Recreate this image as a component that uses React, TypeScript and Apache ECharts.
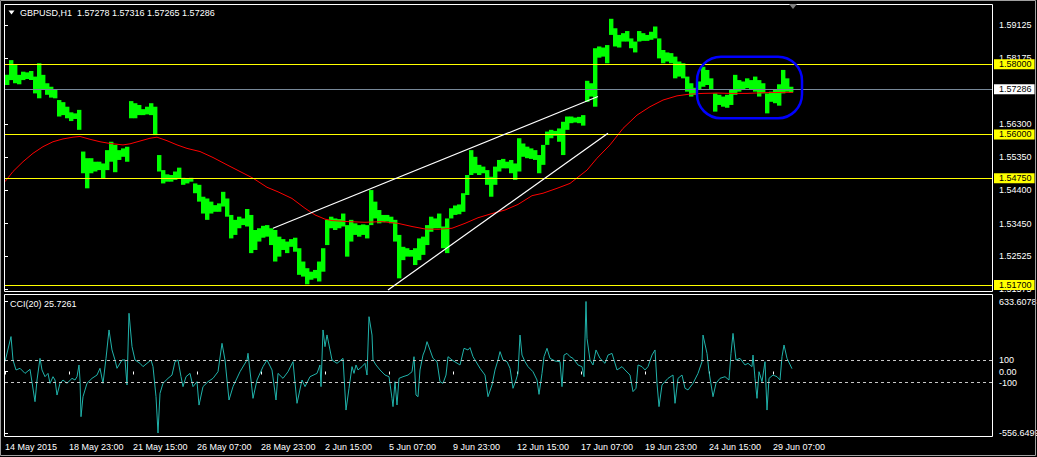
import React, { useEffect, useRef } from "react";
import * as echarts from "echarts";

const FONT = "Liberation Sans";
const STEP = 4; // hourly bars per sample

// Price bar high / low envelopes, one entry every STEP bars starting at bar 0
const greenHi = [
  1.5770, 1.5812, 1.5798, 1.5770, 1.5779, 1.5777, 1.5781, 1.5765, 1.5803, 1.5770,
  1.5746, 1.5736, 1.5727, 1.5698, 1.5692, 1.5679, 1.5663, 1.5660, 1.5670, 1.5551,
  1.5532, 1.5532, 1.5522, 1.5522, 1.5517, 1.5555, 1.5579, 1.5570, 1.5555, 1.5560,
  1.5565, 1.5695, 1.5689, 1.5684, 1.5672, 1.5679, 1.5689, 1.5679, 1.5541, 1.5498,
  1.5486, 1.5484, 1.5494, 1.5505, 1.5476, 1.5475, 1.5476, 1.5460, 1.5456, 1.5422,
  1.5417, 1.5408, 1.5398, 1.5403, 1.5436, 1.5417, 1.5370, 1.5356, 1.5365, 1.5360,
  1.5387, 1.5370, 1.5327, 1.5332, 1.5339, 1.5341, 1.5332, 1.5327, 1.5308, 1.5301,
  1.5294, 1.5301, 1.5305, 1.5275, 1.5237, 1.5218, 1.5208, 1.5213, 1.5237, 1.5275,
  1.5356, 1.5365, 1.5360, 1.5358, 1.5374, 1.5341, 1.5356, 1.5346, 1.5341, 1.5343,
  1.5341, 1.5441, 1.5408, 1.5384, 1.5370, 1.5370, 1.5365, 1.5356, 1.5313, 1.5279,
  1.5275, 1.5270, 1.5275, 1.5303, 1.5308, 1.5341, 1.5365, 1.5360, 1.5374, 1.5337,
  1.5360, 1.5389, 1.5397, 1.5400, 1.5432, 1.5484, 1.5555, 1.5536, 1.5513, 1.5508,
  1.5498, 1.5479, 1.5508, 1.5527, 1.5530, 1.5522, 1.5527, 1.5517, 1.5589, 1.5574,
  1.5565, 1.5560, 1.5555, 1.5541, 1.5570, 1.5608, 1.5613, 1.5610, 1.5617, 1.5636,
  1.5651, 1.5651, 1.5648, 1.5650, 1.5655, 1.5753, 1.5746, 1.5846, 1.5851, 1.5848,
  1.5855, 1.5930, 1.5903, 1.5884, 1.5889, 1.5895, 1.5874, 1.5865, 1.5895, 1.5889,
  1.5884, 1.5893, 1.5908, 1.5874, 1.5841, 1.5834, 1.5832, 1.5822, 1.5808, 1.5803,
  1.5765, 1.5746, 1.5733, 1.5751, 1.5793, 1.5784, 1.5760, 1.5717, 1.5713, 1.5708,
  1.5713, 1.5727, 1.5770, 1.5755, 1.5751, 1.5760, 1.5755, 1.5765, 1.5755, 1.5746,
  1.5717, 1.5722, 1.5727, 1.5743, 1.5784, 1.5760, 1.5736,
];
const greenLo = [
  1.5741, 1.5755, 1.5746, 1.5743, 1.5755, 1.5758, 1.5755, 1.5717, 1.5703, 1.5727,
  1.5713, 1.5705, 1.5703, 1.5651, 1.5655, 1.5646, 1.5638, 1.5644, 1.5613, 1.5489,
  1.5446, 1.5489, 1.5494, 1.5498, 1.5475, 1.5498, 1.5522, 1.5492, 1.5527, 1.5536,
  1.5522, 1.5646, 1.5646, 1.5655, 1.5655, 1.5657, 1.5655, 1.5598, 1.5494, 1.5460,
  1.5465, 1.5465, 1.5470, 1.5475, 1.5456, 1.5460, 1.5465, 1.5432, 1.5408, 1.5374,
  1.5356, 1.5374, 1.5379, 1.5379, 1.5394, 1.5365, 1.5303, 1.5313, 1.5332, 1.5341,
  1.5337, 1.5261, 1.5270, 1.5294, 1.5305, 1.5308, 1.5284, 1.5237, 1.5251, 1.5270,
  1.5261, 1.5279, 1.5265, 1.5199, 1.5194, 1.5172, 1.5185, 1.5189, 1.5180, 1.5208,
  1.5284, 1.5332, 1.5327, 1.5332, 1.5337, 1.5251, 1.5294, 1.5313, 1.5308, 1.5313,
  1.5303, 1.5341, 1.5360, 1.5346, 1.5349, 1.5351, 1.5346, 1.5294, 1.5189, 1.5241,
  1.5251, 1.5251, 1.5227, 1.5241, 1.5256, 1.5284, 1.5322, 1.5332, 1.5332, 1.5275,
  1.5261, 1.5360, 1.5370, 1.5372, 1.5379, 1.5427, 1.5484, 1.5489, 1.5484, 1.5489,
  1.5456, 1.5422, 1.5456, 1.5494, 1.5503, 1.5503, 1.5489, 1.5470, 1.5494, 1.5536,
  1.5532, 1.5530, 1.5527, 1.5489, 1.5513, 1.5570, 1.5589, 1.5596, 1.5579, 1.5541,
  1.5613, 1.5632, 1.5634, 1.5632, 1.5625, 1.5693, 1.5708, 1.5679, 1.5819, 1.5822,
  1.5803, 1.5884, 1.5851, 1.5848, 1.5865, 1.5865, 1.5846, 1.5834, 1.5865, 1.5867,
  1.5867, 1.5870, 1.5874, 1.5817, 1.5803, 1.5808, 1.5803, 1.5760, 1.5765, 1.5760,
  1.5722, 1.5708, 1.5713, 1.5727, 1.5736, 1.5741, 1.5727, 1.5665, 1.5684, 1.5679,
  1.5676, 1.5684, 1.5713, 1.5722, 1.5727, 1.5732, 1.5727, 1.5722, 1.5708, 1.5717,
  1.5660, 1.5693, 1.5689, 1.5682, 1.5717, 1.5722, 1.5720,
];

// Moving average (red)
const maBars = [
  0, 8, 18, 28, 38, 48, 58, 68, 75, 85, 95, 105, 118, 125, 135, 145, 152, 162, 172, 182,
  195, 208, 222, 235, 248, 262, 273, 287, 300, 310, 320, 327, 343, 360, 377, 393, 407, 420, 433, 447,
  460, 473, 487, 500, 513, 527, 538, 552, 565, 582, 592, 605, 618, 632, 645, 658, 672, 685, 698, 712,
  725, 742, 758, 778, 788,
];
const maVals = [
  1.5465, 1.5494, 1.5522, 1.5546, 1.5565, 1.5579, 1.5587, 1.5592, 1.5594, 1.5586,
  1.5579, 1.5574, 1.5570, 1.5573, 1.5581, 1.5589, 1.5592, 1.5582, 1.5570, 1.5560,
  1.5551, 1.5534, 1.5513, 1.5494, 1.5475, 1.5449, 1.5436, 1.5417, 1.5389, 1.5370,
  1.5358, 1.5354, 1.5351, 1.5349, 1.5351, 1.5346, 1.5337, 1.5330, 1.5329, 1.5332,
  1.5346, 1.5362, 1.5374, 1.5384, 1.5400, 1.5425, 1.5432, 1.5446, 1.5460, 1.5498,
  1.5532, 1.5570, 1.5617, 1.5655, 1.5679, 1.5698, 1.5710, 1.5715, 1.5717, 1.5718,
  1.5717, 1.5717, 1.5719, 1.5720, 1.5720,
];

// CCI(20)
const cciBars = [
  0, 6, 8, 11, 15, 20, 25, 30, 32, 35, 37, 40, 43, 45, 48, 50, 52, 55, 58, 62,
  67, 70, 72, 74, 75, 76, 78, 82, 87, 92, 95, 98, 101, 104, 107, 110, 112, 117, 120, 122,
  124, 127, 130, 135, 138, 146, 148, 151, 153, 155, 158, 163, 167, 170, 173, 176, 178, 181, 185, 188,
  192, 194, 198, 203, 208, 213, 217, 220, 224, 228, 235, 242, 243, 246, 248, 252, 258, 262, 267, 271,
  273, 278, 283, 288, 292, 297, 300, 305, 312, 315, 316, 318, 320, 322, 327, 332, 338, 341, 344, 347,
  349, 351, 353, 357, 360, 362, 364, 367, 368, 371, 375, 380, 384, 387, 388, 390, 392, 394, 398, 403,
  407, 409, 411, 413, 415, 418, 420, 422, 425, 428, 432, 435, 438, 441, 443, 447, 455, 459, 463, 465,
  468, 475, 480, 483, 487, 490, 493, 495, 498, 502, 505, 508, 511, 513, 515, 517, 520, 523, 528, 532,
  534, 537, 539, 542, 545, 550, 555, 557, 559, 562, 565, 568, 573, 577, 579, 581, 582, 585, 588, 591,
  595, 600, 603, 607, 612, 617, 620, 625, 628, 631, 633, 637, 640, 643, 647, 650, 652, 654, 657, 660,
  663, 668, 670, 673, 677, 680, 683, 688, 693, 697, 698, 702, 704, 708, 711, 715, 720, 724, 726, 728,
  731, 735, 740, 743, 747, 748, 750, 752, 754, 757, 760, 762, 764, 768, 772, 775, 777, 779, 782, 787,
];
const cciVals = [
  89, 316, 104, 14, 29, -17, 20, -273, -77, 119, 14, -47, -17, -107, -47, -77, -213, -107, -77, -107,
  -62, -77, -47, 59, -77, -409, -228, -107, -62, -32, 29, -107, 119, 376, 195, 104, 29, 104, 104, -122,
  527, 225, 104, 74, 44, 104, 44, -228, -556.6499, -198, -107, -62, -32, 89, 104, -47, -137, -47, -17, -137,
  -92, -304, -137, -92, -62, -2, 255, 104, -258, -137, -2, 104, 165, -77, -243, -77, 44, 104, 14, -258,
  -17, -62, -2, 89, -288, -77, -137, -47, -17, 59, -137, 376, 225, 331, 104, 74, 119, -349, -152, 44,
  -17, 59, 14, 44, 74, -32, 496, 330, 104, 59, 14, -32, -47, -243, -318, -92, -303, -62, -47, -32,
  -2, 134, -213, -228, 14, 149, 195, 270, 195, 119, 89, -92, -107, -32, 134, 104, 59, 210, 195, 216,
  134, 29, -32, -228, -122, 14, 104, 180, 104, 89, 29, -152, -77, -17, 330, 149, 89, 44, -2, -77,
  -207, -17, 134, 210, 119, 95, 89, -137, 149, 164, 134, 119, 59, 44, -47, 633.6078, 300, 104, 59, 195,
  119, 74, 149, 164, 14, 44, 14, -32, -182, -152, 59, 44, 14, 44, 149, 195, -107, -318, -122, -92,
  -62, -32, -288, -62, -32, -152, -167, -107, -17, 89, 330, 164, -2, -228, -107, -62, -47, -77, 164, 345,
  104, 119, 59, 74, 44, 149, -62, -243, -2, -92, 89, -349, -62, -32, -47, -77, 134, 240, 119, 25.7261,
];

// Axis ticks and labels
const dateLabels = [
  "14 May 2015", "18 May 23:00", "21 May 15:00", "26 May 07:00", "28 May 23:00", "2 Jun 15:00",
  "5 Jun 07:00", "9 Jun 23:00", "12 Jun 15:00", "17 Jun 07:00", "19 Jun 23:00", "24 Jun 15:00", "29 Jun 07:00",
];
const dateBars = [0, 64, 128, 192, 256, 320, 384, 448, 512, 576, 640, 704, 768];
const priceTicks = [1.59125, 1.58175, 1.563, 1.5535, 1.544, 1.5345, 1.52525, 1.51575];
const cciTicks = [633.6078, 100, 0, -100, -556.6499];
const cciLevels = [100, -100];

// Drawn objects
const levels = [1.58, 1.56, 1.5475, 1.517];
const bidPrice = 1.57286;
const trendFrom = [[268, 1.5332], [383, 1.5156]];
const trendTo = [[593, 1.5708], [603, 1.5603]];
const boxBars = [692, 797];
const boxPrices = [1.5822, 1.5646];

const PRICE_MIN = 1.515286;
const PRICE_MAX = 1.596939;

export default function App() {
  const ref = useRef<HTMLDivElement>(null);
  useEffect(() => {
    const chart = echarts.init(ref.current as HTMLDivElement, null, { renderer: "svg" });
    const greenData = greenHi.map((h, i) => [i * STEP, h, greenLo[i]]);
    const maData = maBars.map((b, i) => [b, maVals[i]]);
    const cciData = cciBars.map((b, i) => [b, cciVals[i]]);

    const levelLabel = (v: number, bg: string) => ({
      show: true,
      position: "end",
      formatter: v.toFixed(5),
      backgroundColor: bg,
      color: "#000",
      fontSize: 9,
      fontFamily: FONT,
      padding: [1, 3, 1, 5],
      lineHeight: 8,
      distance: 2,
    });

    const markData: any[] = levels.map((v) => ({
      yAxis: v,
      lineStyle: { color: "#ffff00", width: 1, type: "solid" },
      label: levelLabel(v, "#ffff00"),
    }));
    markData.push({
      yAxis: bidPrice,
      lineStyle: { color: "#778899", width: 1, type: "solid" },
      label: levelLabel(bidPrice, "#ffffff"),
    });
    trendFrom.forEach((f, i) => {
      markData.push([
        { coord: f, lineStyle: { color: "#ffffff", width: 1.2, type: "solid" }, label: { show: false } },
        { coord: trendTo[i] },
      ]);
    });

    const option: any = {
      animation: false,
      backgroundColor: "#000000",
      grid: [
        { left: 5, top: 5, width: 987, height: 286, outerBoundsMode: "none", containLabel: false },
        { left: 5, top: 301.5, width: 987, height: 131.5, outerBoundsMode: "none", containLabel: false },
      ],
      xAxis: [
        { type: "value", gridIndex: 0, min: 0, max: 987, show: false },
        {
          type: "value",
          gridIndex: 1,
          min: 0,
          max: 987,
          position: "bottom",
          offset: 4,
          axisLine: { show: false },
          splitLine: { show: false },
          axisTick: { show: true, customValues: dateBars, length: 3, lineStyle: { color: "#ffffff" } },
          axisLabel: {
            customValues: dateBars,
            formatter: (v: number) => {
              const k = dateBars.indexOf(Math.round(v));
              return k >= 0 ? dateLabels[k] : "";
            },
            color: "#ffffff",
            fontSize: 9,
            fontFamily: FONT,
            align: "left",
            margin: 5,
          },
        },
      ],
      yAxis: [
        {
          type: "value",
          gridIndex: 0,
          position: "right",
          min: PRICE_MIN,
          max: PRICE_MAX,
          axisLine: { show: false },
          splitLine: { show: false },
          axisTick: { show: true, customValues: priceTicks, length: 3, lineStyle: { color: "#ffffff" } },
          axisLabel: {
            customValues: priceTicks,
            formatter: (v: number) => v.toFixed(5),
            color: "#ffffff",
            fontSize: 9,
            fontFamily: FONT,
            margin: 7,
          },
        },
        {
          type: "value",
          gridIndex: 1,
          position: "right",
          min: -556.6499,
          max: 633.6078,
          axisLine: { show: false },
          splitLine: { show: false },
          axisTick: { show: true, customValues: cciTicks, length: 3, lineStyle: { color: "#ffffff" } },
          axisLabel: {
            customValues: cciTicks,
            formatter: (v: number) =>
              v === 0 ? "0.00" : Math.abs(v) === 100 ? String(v) : v.toFixed(4),
            color: "#ffffff",
            fontSize: 9,
            fontFamily: FONT,
            margin: 7,
          },
        },
      ],
      series: [
        {
          type: "custom",
          name: "GBPUSD",
          xAxisIndex: 0,
          yAxisIndex: 0,
          data: greenData,
          encode: { x: 0, y: [1, 2] },
          clip: true,
          silent: true,
          z: 2,
          renderItem: (_params: any, api: any) => {
            const a = api.coord([api.value(0), api.value(1)]);
            const b = api.coord([api.value(0) + STEP, api.value(2)]);
            return {
              type: "rect",
              shape: { x: a[0], y: a[1], width: b[0] - a[0] + 0.4, height: Math.max(b[1] - a[1], 1) },
              style: { fill: "#00ff00" },
            };
          },
        },
        {
          type: "line",
          name: "MA",
          xAxisIndex: 0,
          yAxisIndex: 0,
          data: maData,
          symbol: "none",
          clip: false,
          silent: true,
          z: 3,
          lineStyle: { color: "#ff0000", width: 1 },
          markLine: {
            symbol: ["none", "none"],
            silent: true,
            animation: false,
            precision: 6,
            data: markData,
          },
        },
        {
          type: "line",
          name: "CCI(20)",
          xAxisIndex: 1,
          yAxisIndex: 1,
          data: cciData,
          symbol: "none",
          silent: true,
          lineStyle: { color: "#20b2aa", width: 1 },
          markLine: {
            symbol: ["none", "none"],
            silent: true,
            animation: false,
            precision: 4,
            data: cciLevels.map((v) => ({
              yAxis: v,
              lineStyle: { color: "#c8c8c8", width: 1, type: [3, 3] },
              label: { show: false },
            })),
          },
        },
      ],
    };
    chart.setOption(option);

    const p1 = chart.convertToPixel({ gridIndex: 0 }, [boxBars[0], boxPrices[0]]) as number[];
    const p2 = chart.convertToPixel({ gridIndex: 0 }, [boxBars[1], boxPrices[1]]) as number[];

    chart.setOption({
      graphic: [
        {
          type: "rect",
          shape: { x: 0.5, y: 0.5, width: 1035, height: 455 },
          style: { fill: "none", stroke: "#a0a0a0", lineWidth: 1 },
          silent: true,
          z: 100,
        },
        {
          type: "rect",
          shape: { x: 4.5, y: 4.5, width: 988, height: 287 },
          style: { fill: "none", stroke: "#ffffff", lineWidth: 1 },
          silent: true,
          z: 100,
        },
        {
          type: "rect",
          shape: { x: 4.5, y: 294.5, width: 988, height: 142 },
          style: { fill: "none", stroke: "#ffffff", lineWidth: 1 },
          silent: true,
          z: 100,
        },
        {
          type: "polygon",
          shape: { points: [[8.5, 10.5], [14.5, 10.5], [11.5, 14.5]] },
          style: { fill: "#ffffff" },
          silent: true,
          z: 100,
        },
        {
          type: "text",
          x: 20,
          y: 13,
          style: {
            text: "GBPUSD,H1  1.57278 1.57316 1.57265 1.57286",
            fill: "#ffffff",
            fontSize: 9,
            fontFamily: FONT,
            verticalAlign: "middle",
            align: "left",
          },
          silent: true,
          z: 100,
        },
        {
          type: "text",
          x: 10,
          y: 304,
          style: {
            text: "CCI(20) 25.7261",
            fill: "#ffffff",
            fontSize: 9,
            fontFamily: FONT,
            verticalAlign: "middle",
            align: "left",
          },
          silent: true,
          z: 100,
        },
        {
          type: "polygon",
          shape: { points: [[789, 4], [797, 4], [793, 9]] },
          style: { fill: "#808080" },
          silent: true,
          z: 100,
        },
        {
          type: "rect",
          shape: { x: p1[0], y: p1[1], width: p2[0] - p1[0], height: p2[1] - p1[1], r: 24 },
          style: { fill: "none", stroke: "#0000ff", lineWidth: 2.5 },
          silent: true,
          z: 100,
        },
      ],
    });

    return () => chart.dispose();
  }, []);
  return (
    <div
      ref={ref}
      style={{ position: "absolute", left: 0, top: 0, width: 1037, height: 457, background: "#000" }}
    />
  );
}
